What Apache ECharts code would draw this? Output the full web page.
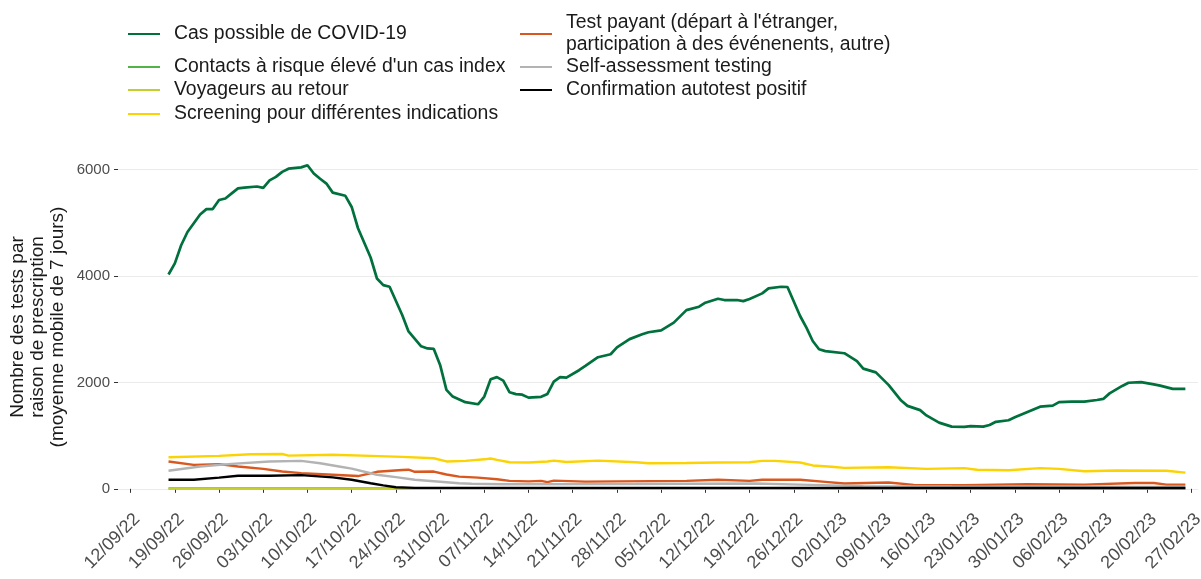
<!DOCTYPE html>
<html lang="fr">

<head>
    <meta charset="UTF-8">
    <title>Tests par raison de prescription</title>
    <style>
        html, body { margin: 0; padding: 0; background: #fff; }
        #chart { width: 1201px; height: 579px; }
    </style>
</head>

<body>
    <div id="chart"></div>
    <script src="https://cdn.jsdelivr.net/npm/echarts@6/dist/echarts.min.js"></script>
    <script>
        // lundis sur l'axe x
        var tickDates = ['2022-09-12', '2022-09-19', '2022-09-26', '2022-10-03', '2022-10-10', '2022-10-17',
            '2022-10-24', '2022-10-31', '2022-11-07', '2022-11-14', '2022-11-21', '2022-11-28', '2022-12-05',
            '2022-12-12', '2022-12-19', '2022-12-26', '2023-01-02', '2023-01-09', '2023-01-16', '2023-01-23',
            '2023-01-30', '2023-02-06', '2023-02-13', '2023-02-20', '2023-02-27']
        var yTicks = [0, 2000, 4000, 6000]

        var seriesNames = ['Cas possible de COVID-19', "Contacts à risque élevé d'un cas index", 'Voyageurs au retour',
            'Screening pour différentes indications',
            "Test payant (départ à l'étranger, participation à des événenents, autre)",
            'Self-assessment testing', 'Confirmation autotest positif']

        var casDates = ['2022-09-18', '2022-09-19', '2022-09-20', '2022-09-21', '2022-09-23', '2022-09-24', '2022-09-25',
            '2022-09-26', '2022-09-27', '2022-09-28', '2022-09-29', '2022-09-30',
            '2022-10-02', '2022-10-03', '2022-10-04', '2022-10-05', '2022-10-06', '2022-10-07', '2022-10-09', '2022-10-10',
            '2022-10-11', '2022-10-12', '2022-10-13', '2022-10-14', '2022-10-16', '2022-10-17', '2022-10-18', '2022-10-20',
            '2022-10-21', '2022-10-22', '2022-10-23', '2022-10-25', '2022-10-26', '2022-10-28', '2022-10-29', '2022-10-30',
            '2022-10-31',
            '2022-11-01', '2022-11-02', '2022-11-04', '2022-11-06', '2022-11-07', '2022-11-08', '2022-11-09', '2022-11-10',
            '2022-11-11', '2022-11-12', '2022-11-13', '2022-11-14', '2022-11-16', '2022-11-17', '2022-11-18', '2022-11-19',
            '2022-11-20', '2022-11-22', '2022-11-23', '2022-11-25', '2022-11-27', '2022-11-28', '2022-11-30',
            '2022-12-02', '2022-12-03', '2022-12-05', '2022-12-07', '2022-12-09', '2022-12-11', '2022-12-12', '2022-12-14',
            '2022-12-15', '2022-12-17', '2022-12-18', '2022-12-19', '2022-12-21', '2022-12-22', '2022-12-24', '2022-12-25',
            '2022-12-27', '2022-12-28', '2022-12-29', '2022-12-30', '2022-12-31',
            '2023-01-03', '2023-01-05', '2023-01-06', '2023-01-08', '2023-01-10', '2023-01-12', '2023-01-13', '2023-01-15',
            '2023-01-16', '2023-01-18', '2023-01-20', '2023-01-22', '2023-01-23', '2023-01-25', '2023-01-26', '2023-01-27',
            '2023-01-29', '2023-01-30',
            '2023-02-01', '2023-02-03', '2023-02-05', '2023-02-06', '2023-02-08', '2023-02-10', '2023-02-12', '2023-02-13',
            '2023-02-14', '2023-02-16', '2023-02-17', '2023-02-19', '2023-02-21', '2023-02-22', '2023-02-24', '2023-02-26']
        var casValues = [4030, 4240, 4580, 4830, 5160, 5260, 5260, 5430, 5460, 5555, 5650, 5665,
            5685, 5660, 5800, 5865, 5960, 6020, 6045, 6085, 5930, 5830, 5740, 5570, 5510, 5300, 4900, 4350,
            3955, 3830, 3800, 3270, 2960, 2680, 2640, 2630, 2330,
            1860, 1735, 1630, 1590, 1735, 2060, 2100, 2035, 1815, 1780, 1770, 1715, 1730, 1785, 2015, 2100,
            2090, 2230, 2310, 2475, 2530, 2660, 2815,
            2905, 2945, 2980, 3125, 3360, 3425, 3500, 3575, 3550, 3550, 3530, 3570, 3675, 3770, 3800, 3795,
            3250, 3030, 2780, 2625, 2590,
            2550, 2400, 2260, 2190, 1955, 1660, 1560, 1480, 1380, 1245, 1170, 1165, 1180, 1170, 1200, 1260,
            1290, 1345,
            1445, 1545, 1565, 1630, 1640, 1640, 1670, 1690, 1795, 1935, 1995, 2005, 1965, 1940, 1880, 1880]

        var contactDates = ['2022-09-18', '2022-11-01', '2022-12-27', '2023-02-26']
        var contactValues = [10, 8, 8, 8]

        var voyDates = ['2022-09-18', '2023-02-26']
        var voyValues = [4, 4]

        var screenDates = ['2022-09-18', '2022-09-26', '2022-10-01', '2022-10-06', '2022-10-07', '2022-10-14', '2022-10-20',
            '2022-10-25', '2022-10-30', '2022-11-01', '2022-11-04', '2022-11-07', '2022-11-08', '2022-11-09', '2022-11-11',
            '2022-11-14', '2022-11-17', '2022-11-18', '2022-11-20', '2022-11-25', '2022-12-01', '2022-12-03', '2022-12-09',
            '2022-12-14', '2022-12-19', '2022-12-21', '2022-12-23', '2022-12-27', '2022-12-29', '2023-01-01', '2023-01-03',
            '2023-01-10', '2023-01-16', '2023-01-22', '2023-01-24', '2023-01-29', '2023-02-03', '2023-02-06', '2023-02-10',
            '2023-02-15', '2023-02-23', '2023-02-26']
        var screenValues = [595, 620, 650, 655, 625, 640, 620,
            600, 575, 515, 525, 555, 570, 545, 500,
            495, 515, 530, 505, 530, 500, 480, 485,
            495, 500, 525, 525, 495, 440, 415, 395,
            405, 375, 390, 360, 350, 390, 375, 330,
            345, 340, 305]

        var payantDates = ['2022-09-18', '2022-09-22', '2022-09-26', '2022-09-29', '2022-10-03', '2022-10-06', '2022-10-09',
            '2022-10-14', '2022-10-18', '2022-10-21', '2022-10-25', '2022-10-26', '2022-10-27', '2022-10-30', '2022-11-01',
            '2022-11-03', '2022-11-06', '2022-11-09', '2022-11-11', '2022-11-14', '2022-11-16', '2022-11-17', '2022-11-18',
            '2022-11-23', '2022-11-28', '2022-12-09', '2022-12-14', '2022-12-19', '2022-12-21', '2022-12-27', '2022-12-31',
            '2023-01-03', '2023-01-10', '2023-01-14', '2023-01-22', '2023-02-01', '2023-02-10', '2023-02-18', '2023-02-21',
            '2023-02-23', '2023-02-26']
        var payantValues = [515, 450, 465, 420, 375, 325, 295,
            265, 240, 320, 355, 360, 320, 325, 270,
            230, 210, 180, 150, 140, 150, 125, 155,
            135, 140, 150, 170, 150, 170, 170, 130,
            100, 120, 75, 70, 85, 80, 110, 110,
            80, 80]

        var selfDates = ['2022-09-18', '2022-09-23', '2022-09-28', '2022-10-04', '2022-10-09', '2022-10-12', '2022-10-15',
            '2022-10-17', '2022-10-21', '2022-10-24', '2022-10-27', '2022-11-01', '2022-11-03', '2022-11-05', '2022-11-10',
            '2022-12-01', '2022-12-20', '2022-12-27', '2023-01-06', '2023-01-20', '2023-02-26']
        var selfValues = [340, 420, 470, 515, 525, 480, 420,
            380, 265, 220, 170, 125, 105, 95, 85,
            90, 100, 80, 50, 45, 35]

        var autoDates = ['2022-09-18', '2022-09-22', '2022-09-26', '2022-09-29', '2022-10-04', '2022-10-09', '2022-10-14',
            '2022-10-17', '2022-10-20', '2022-10-22', '2022-10-24', '2022-10-27', '2023-02-26']
        var autoValues = [170, 170, 210, 245, 245, 258, 215,
            170, 105, 65, 30, 18, 15]

        var colors = ['#00703c', '#52b447', '#c3d02c', '#fbd303', '#d9581f', '#b3b3b3', '#000000']
        var widths = [2.7, 2.2, 2.2, 2.4, 2.4, 2.4, 2.4]

        function ts(s) {
            let p = s.split('-')
            return new Date(+p[0], +p[1] - 1, +p[2]).getTime()
        }
        function pad(n) { return (n < 10 ? '0' : '') + n }
        function zip(dates, values) {
            return dates.map((d, i) => [ts(d), values[i]])
        }

        var chart = echarts.init(document.getElementById('chart'))
        var font = 'Liberation Sans, Arial, sans-serif'
        var allData = [
            zip(casDates, casValues), zip(contactDates, contactValues), zip(voyDates, voyValues),
            zip(screenDates, screenValues), zip(payantDates, payantValues), zip(selfDates, selfValues),
            zip(autoDates, autoValues)
        ]

        // une légende par entrée, placée comme dans l'original
        var legendPos = [
            [128, 34, 1], [128, 67, 1], [128, 90, 1], [128, 114, 1],
            [520, 34, 2], [520, 67, 1], [520, 90, 1]
        ]
        var legends = seriesNames.map((name, i) => {
            let p = legendPos[i]
            return {
                data: [name],
                left: p[0],
                top: p[1] - 11 * p[2],
                orient: 'horizontal',
                padding: 0,
                icon: 'rect',
                itemWidth: 32,
                itemHeight: 2,
                selectedMode: false,
                formatter: function (n) {
                    return n.replace('étranger, ', 'étranger,\n')
                },
                textStyle: {
                    fontFamily: font, fontSize: 19.4, color: '#1a1a1a',
                    lineHeight: 22, padding: [0, 0, 0, 9]
                }
            }
        })

        var option = {
            animation: false,
            backgroundColor: '#fff',
            legend: legends,
            grid: { left: 118, right: 3, top: 149, bottom: 74, containLabel: false, outerBoundsMode: 'none' },
            xAxis: {
                type: 'value',
                min: ts('2022-09-10'),
                max: ts('2023-02-28'),
                axisLine: { show: false },
                splitLine: { show: false },
                axisTick: {
                    show: true, length: 4,
                    customValues: tickDates.map(ts),
                    lineStyle: { color: '#333', width: 1 }
                },
                axisLabel: {
                    customValues: tickDates.map(ts),
                    rotate: 45,
                    align: 'right',
                    verticalAlign: 'top',
                    margin: 5,
                    fontFamily: font, fontSize: 18, color: '#4d4d4d',
                    formatter: function (v) {
                        let d = new Date(v)
                        return pad(d.getDate()) + '/' + pad(d.getMonth() + 1) + '/' + String(d.getFullYear()).slice(2)
                    }
                }
            },
            yAxis: {
                type: 'value',
                min: -304,
                max: 6390,
                name: 'Nombre des tests par\nraison de prescription\n(moyenne mobile de 7 jours)',
                nameLocation: 'middle',
                nameGap: 50,
                nameMoveOverlap: false,
                nameTextStyle: { fontFamily: font, fontSize: 19, color: '#1a1a1a', lineHeight: 20 },
                axisLine: { show: false },
                axisTick: {
                    show: true, length: 4,
                    customValues: yTicks,
                    lineStyle: { color: '#333', width: 1 }
                },
                axisLabel: {
                    customValues: yTicks,
                    margin: 8,
                    fontFamily: font, fontSize: 15, color: '#4d4d4d',
                    formatter: function (v) { return String(v) }
                },
                splitLine: { show: true, lineStyle: { color: '#ebebeb', width: 1.2 } }
            },
            series: seriesNames.map((name, i) => ({
                name: name,
                type: 'line',
                data: allData[i],
                showSymbol: false,
                symbol: 'none',
                color: colors[i],
                lineStyle: { color: colors[i], width: widths[i] },
                z: 2 + i
            }))
        }
        chart.setOption(option)
    </script>
</body>

</html>
